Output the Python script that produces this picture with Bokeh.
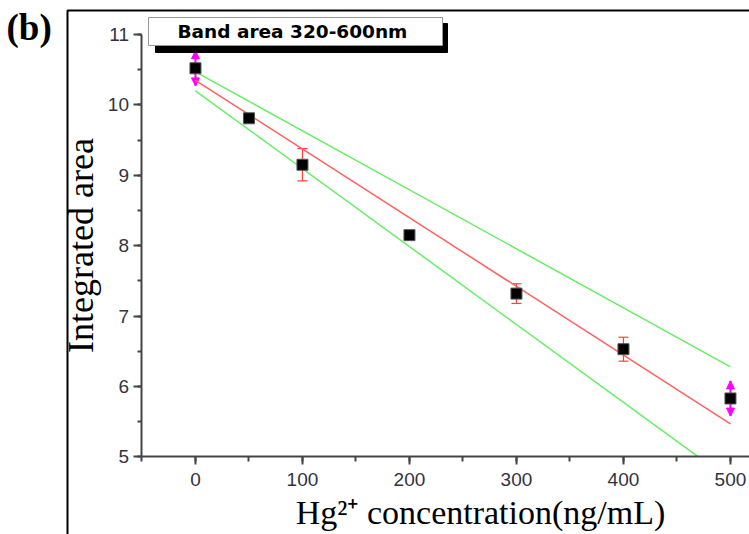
from bokeh.plotting import figure
from bokeh.models import (Range1d, SingleIntervalTicker, ColumnDataSource, Whisker,
                          TeeHead, NormalHead, Label, BoxAnnotation)
from bokeh.embed import file_html
from bokeh.resources import INLINE

# ---- data ----
conc = [0, 50, 100, 200, 300, 400, 500]
area = [10.52, 9.81, 9.15, 8.15, 7.32, 6.53, 5.83]
err = [0.25, 0.05, 0.23, 0.06, 0.14, 0.17, 0.25]
arrow_points = [0, 6]          # indices drawn with magenta arrow error bars

fit_x = [0, 500]
fit_y = [10.35, 5.47]
upper_x = [0, 500]
upper_y = [10.47, 6.28]
lower_x = [0, 470]
lower_y = [10.20, 5.00]

x_label = "Hg\u00b2\u207a concentration(ng/mL)"
y_label = "Integrated area"
box_text = "Band area 320-600nm"
panel_tag = "(b)"

# ---- figure (frame covers the whole canvas) ----
xr = Range1d(-182.2, 517.8)
yr = Range1d(3.898, 11.483)
p = figure(width=749, height=534, x_range=xr, y_range=yr,
           output_backend="svg", toolbar_location=None,
           min_border_left=0, min_border_right=0, min_border_top=0, min_border_bottom=0)
p.grid.visible = False
p.outline_line_color = None
p.background_fill_color = "white"
p.border_fill_color = "white"

# axes placed inside the frame
p.xaxis.fixed_location = 5
p.yaxis.fixed_location = -50
p.xaxis.bounds = (-50, 600)
p.yaxis.bounds = (5, 11)
p.xaxis.ticker = SingleIntervalTicker(interval=100, num_minor_ticks=2)
p.yaxis.ticker = SingleIntervalTicker(interval=1, num_minor_ticks=2)
for ax in (p.xaxis[0], p.yaxis[0]):
    ax.axis_line_color = "#444444"
    ax.axis_line_width = 2
    ax.major_tick_line_color = "#444444"
    ax.major_tick_line_width = 2
    ax.minor_tick_line_color = "#444444"
    ax.minor_tick_line_width = 2
    ax.major_tick_in = 0
    ax.minor_tick_in = 0
    ax.major_tick_out = 8
    ax.major_label_text_font = "Liberation Sans"
    ax.major_label_text_font_size = "19px"
    ax.major_label_text_color = "#333340"
p.xaxis.minor_tick_out = 5
p.yaxis.minor_tick_out = 4
p.xaxis.major_label_standoff = 8
p.yaxis.major_label_standoff = 5

p.yaxis.axis_label = y_label
p.yaxis.axis_label_text_font = "Liberation Serif"
p.yaxis.axis_label_text_font_size = "36px"
p.yaxis.axis_label_text_font_style = "normal"
p.yaxis.axis_label_text_color = "black"
p.yaxis.axis_label_standoff = 3

# outer frame: only its left and top edges fall inside the window
p.add_layout(BoxAnnotation(left=67, right=1000, top=524, bottom=-200,
                           left_units="screen", right_units="screen",
                           top_units="screen", bottom_units="screen",
                           fill_alpha=0, line_color="black", line_alpha=1.0, line_width=2))

# fit and confidence lines
p.line(upper_x, upper_y, line_color="#66ee66", line_width=1.5)
p.line(lower_x, lower_y, line_color="#66ee66", line_width=1.5)
p.line(fit_x, fit_y, line_color="#ff6060", line_width=1.5)

# error bars
bar_idx = [i for i in range(len(conc)) if i not in arrow_points]
src_bar = ColumnDataSource(dict(
    x=[conc[i] for i in bar_idx],
    lo=[area[i] - err[i] for i in bar_idx],
    hi=[area[i] + err[i] for i in bar_idx]))
src_arr = ColumnDataSource(dict(
    x=[conc[i] for i in arrow_points],
    lo=[area[i] - err[i] for i in arrow_points],
    hi=[area[i] + err[i] for i in arrow_points]))
p.add_layout(Whisker(source=src_bar, base="x", lower="lo", upper="hi",
                     line_color="#ff4040", line_width=1.2,
                     upper_head=TeeHead(size=10, line_color="#ff4040", line_width=1.2),
                     lower_head=TeeHead(size=10, line_color="#ff4040", line_width=1.2)))
p.add_layout(Whisker(source=src_arr, base="x", lower="lo", upper="hi",
                     line_color="#ff00ff", line_width=2,
                     upper_head=NormalHead(size=8, fill_color="#ff00ff", line_color="#ff00ff"),
                     lower_head=NormalHead(size=8, fill_color="#ff00ff", line_color="#ff00ff")))

# data points
p.scatter(conc, area, marker="square", size=11, fill_color="black", line_color="#555555")

# title box with drop shadow
p.add_layout(BoxAnnotation(left=155, right=447, top=511, bottom=482,
                           left_units="screen", right_units="screen",
                           top_units="screen", bottom_units="screen",
                           fill_color="black", fill_alpha=1.0, line_color="black", line_alpha=1.0))
p.add_layout(BoxAnnotation(left=148, right=442, top=517, bottom=489,
                           left_units="screen", right_units="screen",
                           top_units="screen", bottom_units="screen",
                           fill_color="white", fill_alpha=1.0, line_color="#999999",
                           line_alpha=1.0, line_width=1))
p.add_layout(Label(x=177, y=503, x_units="screen", y_units="screen", text=box_text,
                   text_font="DejaVu Sans", text_font_style="bold", text_font_size="18.5px",
                   text_color="black", text_baseline="middle"))

# x-axis label
p.add_layout(Label(x=480, y=22, x_units="screen", y_units="screen", text=x_label,
                   text_font="Liberation Serif", text_font_size="34px",
                   text_color="black", text_align="center", text_baseline="middle"))

# panel tag
p.add_layout(Label(x=6, y=507, x_units="screen", y_units="screen", text=panel_tag,
                   text_font="Liberation Serif", text_font_style="bold", text_font_size="37px",
                   text_color="black", text_baseline="middle"))

open("out.html", "w").write(file_html(p, INLINE))
